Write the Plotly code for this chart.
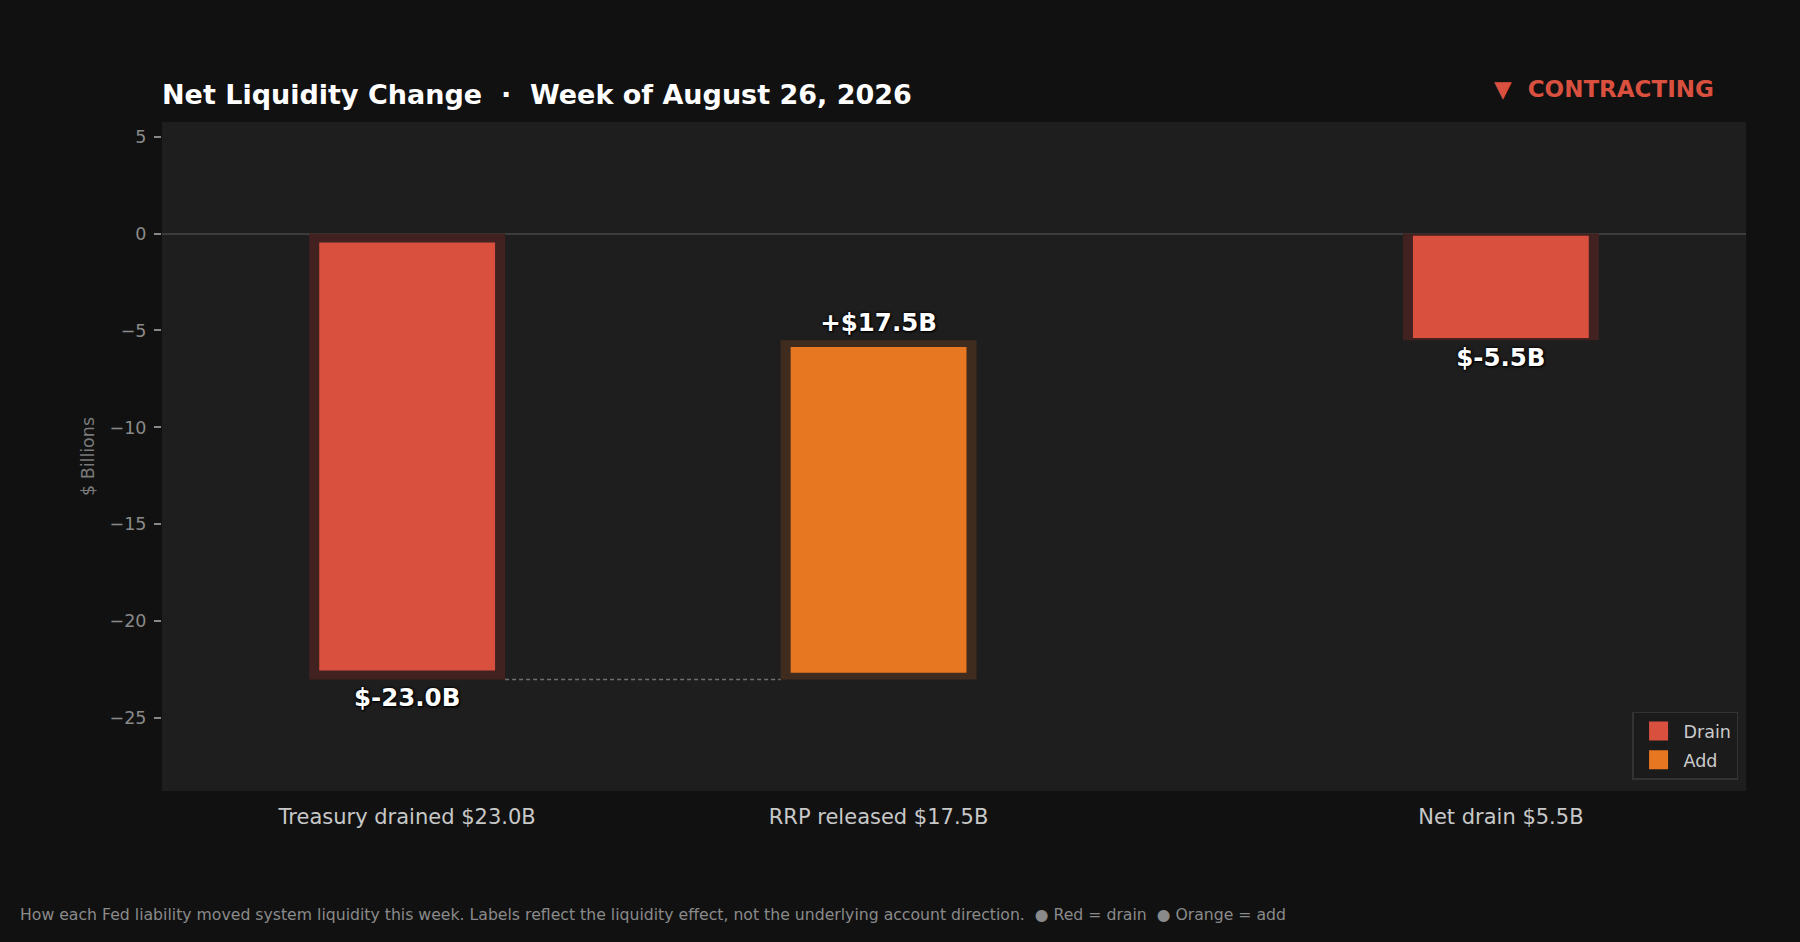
import plotly.graph_objects as go

# liquidity effect of each Fed liability this week ($ billions)
categories = ["Treasury drained $23.0B", "RRP released $17.5B", "Net drain $5.5B"]
change = [-23.0, 17.5, -5.5]
start = [0.0, -23.0, 0.0]
kind = ["Drain", "Add", "Drain"]
value_labels = ["$-23.0B", "+$17.5B", "$-5.5B"]
slots = [0, 1, 2.32]

COLORS = {"Drain": "#d9503f", "Add": "#e87722"}
HALO = {"Drain": "#412220", "Add": "#3f2c1e"}
FONT = "DejaVu Sans"

OUTER_W = 0.4156
INNER_W = 0.373
INSET = 0.02

fig = go.Figure()

# darker halo behind each bar, carries the value label
fig.add_trace(
    go.Bar(
        x=slots,
        y=change,
        base=start,
        width=OUTER_W,
        marker=dict(color=[HALO[k] for k in kind], line=dict(width=0)),
        text=value_labels,
        textposition="outside",
        constraintext="none",
        cliponaxis=False,
        textfont=dict(family=FONT, size=24.5, color="#ffffff", weight="bold",
                      shadow="0px 0px 3px #000000, 0px 0px 2px #000000, 1px 1px 2px #000000"),
        showlegend=False,
        hoverinfo="skip",
    )
)

for name in ["Drain", "Add"]:
    idx = [i for i, k in enumerate(kind) if k == name]
    fig.add_trace(
        go.Bar(
            x=[slots[i] for i in idx],
            y=[change[i] * (1 - 2 * INSET) for i in idx],
            base=[start[i] + change[i] * INSET for i in idx],
            width=INNER_W,
            name=name,
            legendgroup=name,
            showlegend=False,
            marker=dict(color=COLORS[name], line=dict(width=0)),
            customdata=[[categories[i], change[i]] for i in idx],
            hovertemplate="%{customdata[0]}<br>%{customdata[1]:+.1f}B<extra></extra>",
        )
    )

# legend swatches
for name in ["Drain", "Add"]:
    fig.add_trace(
        go.Scatter(
            x=[None], y=[None], mode="markers", name=name, legendgroup=name,
            marker=dict(symbol="square", size=15, color=COLORS[name],
                        line=dict(width=4, color=COLORS[name])),
        )
    )

# dashed connector from the end of the first bar to the start of the second
fig.add_trace(
    go.Scatter(
        x=[slots[0] + OUTER_W / 2, slots[1] - OUTER_W / 2],
        y=[start[0] + change[0], start[1]],
        mode="lines",
        line=dict(color="#707070", width=1.5, dash="4px,3px"),
        showlegend=False,
        hoverinfo="skip",
    )
)

fig.add_annotation(
    text="▼  CONTRACTING",
    xref="paper", yref="paper", x=0.981, y=1.0496,
    xanchor="right", yanchor="middle", showarrow=False,
    font=dict(family=FONT, size=23, color="#d9503f", weight="bold"),
)

fig.add_annotation(
    text=("How each Fed liability moved system liquidity this week. "
          "Labels reflect the liquidity effect, not the underlying account direction."
          "  ● Red = drain  ● Orange = add"),
    xref="paper", yref="paper", x=-0.0909, y=-0.1844,
    xanchor="left", yanchor="middle", showarrow=False,
    font=dict(family=FONT, size=15.7, color="#8a8a8a"),
)

fig.update_layout(
    width=1800,
    height=942,
    barmode="overlay",
    paper_bgcolor="#111111",
    plot_bgcolor="#1e1e1e",
    font=dict(family=FONT, color="#cccccc"),
    title=dict(
        text="Net Liquidity Change  ·  Week of August 26, 2026",
        x=0, xref="paper", xanchor="left",
        y=0.8995, yref="container", yanchor="middle",
        font=dict(family=FONT, size=27, color="#ffffff", weight="bold"),
    ),
    margin=dict(l=162, r=54, t=122, b=151, autoexpand=False),
    xaxis=dict(
        range=[-0.52, 2.84],
        tickvals=slots,
        ticktext=categories,
        showgrid=False,
        zeroline=False,
        showline=False,
        ticks="",
        ticklabelstandoff=11,
        tickfont=dict(family=FONT, size=21, color="#c8c8c8"),
    ),
    yaxis=dict(
        range=[-28.75, 5.75],
        dtick=5,
        showgrid=False,
        zeroline=True,
        zerolinecolor="#3c3c3c",
        zerolinewidth=2,
        ticks="outside",
        ticklen=7,
        tickwidth=1.5,
        tickcolor="#888888",
        ticklabelstandoff=4,
        tickfont=dict(family=FONT, size=17.5, color="#8a8a8a"),
        title=dict(text="$ Billions", standoff=10,
                   font=dict(family=FONT, size=17.5, color="#7a7a7a")),
    ),
    legend=dict(
        x=0.995, y=0.017, xanchor="right", yanchor="bottom",
        bgcolor="#1b1b1b", bordercolor="#333333", borderwidth=1.5,
        tracegroupgap=3, itemwidth=40,
        font=dict(family=FONT, size=17.5, color="#cccccc"),
    ),
)

fig.write_html("out.html", config={"displayModeBar": False},
               post_script="document.body.style.margin = '0';")
